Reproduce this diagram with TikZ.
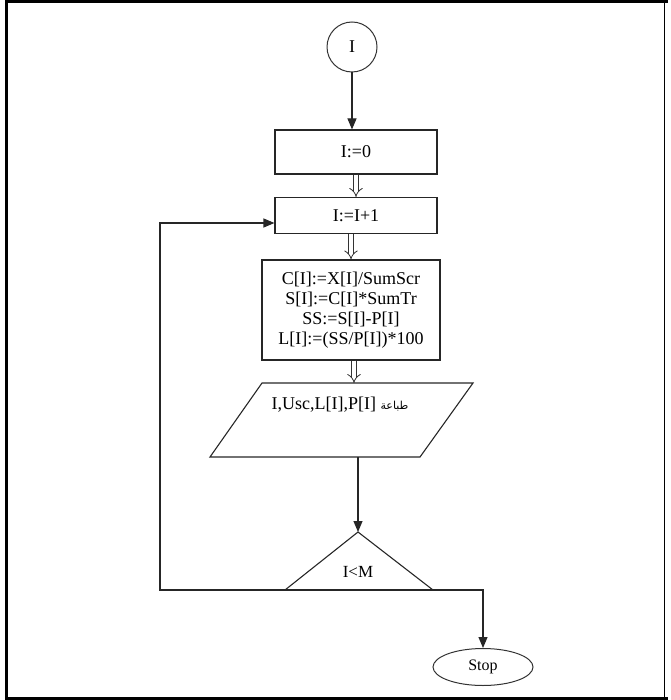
\documentclass[tikz,border=0pt]{standalone}
\usepackage{fontspec}
\setmainfont{Liberation Serif}
\newfontfamily\arabicfont[Script=Arabic]{DejaVu Sans}
\TeXXeTstate=1
\usetikzlibrary{arrows.meta,shapes.geometric,calc}
\begin{document}
\begin{tikzpicture}[x=1pt,y=-1pt,
  ln/.style={line width=1.1pt, draw=black!85},
  box/.style={draw=black!85, line width=1.1pt, inner sep=0pt, align=center,
              font=\fontsize{18}{20}\selectfont},
  arr/.style={ln, -{Triangle[length=11pt,width=9pt]}},
  dbl/.style={draw=black!80, double, double distance=4pt, line width=0.8pt, -{Implies}},
  txt/.style={font=\fontsize{18}{20}\selectfont, inner sep=0pt}
]
\useasboundingbox (0,0) rectangle (670,700);
% frame
\draw[line width=3pt] (6.5,1.5) -- (668,1.5) (6.5,0) -- (6.5,698.5) -- (668,698.5);
\draw[line width=1pt] (664,1.5) -- (664,698.5);

% start connector
\node[draw=black!80, line width=1pt, circle, minimum size=50pt, inner sep=0pt, font=\fontsize{18}{20}\selectfont] (c) at (352,47) {I};

% boxes
\node[box, minimum width=162pt, minimum height=44pt] (b1) at (356,152) {I:=0};
\node[box, minimum width=162pt, minimum height=36pt] (b2) at (356,215.5) {I:=I+1};
\node[box, minimum width=178pt, minimum height=100pt] (b3) at (351,310)
  {C[I]:=X[I]/SumScr\\S[I]:=C[I]*SumTr\\SS:=S[I]-P[I]\\L[I]:=(SS/P[I])*100};

% parallelogram
\coordinate (ptl) at (262,383);
\coordinate (ptr) at (473,383);
\coordinate (pbr) at (420,457);
\coordinate (pbl) at (210,457);
\draw[ln] (ptl) -- (ptr) -- (pbr) -- (pbl) -- cycle;
\node[txt] (pt) at (340,405) {I,Usc,L[I],P[I] {\arabicfont\fontsize{11}{14}\selectfont\beginR طباعة\endR}};
\coordinate (pout) at (358,457);
\coordinate (ptop) at (354,383);

% triangle decision
\coordinate (tap) at (358,532);
\coordinate (tbl) at (285,590);
\coordinate (tbr) at (433,590);
\draw[ln] (tbl) -- (tap) -- (tbr);
\node[txt, font=\fontsize{17}{20}\selectfont] (tt) at (358,572) {I<M};

% stop
\node[draw=black!80, line width=1pt, ellipse, minimum width=100pt, minimum height=37pt, inner sep=0pt, font=\fontsize{16}{18}\selectfont] (stop) at (483,667) {Stop};

% connectors
\draw[arr] (c) -- (c |- b1.north);
\draw[dbl] (b1) -- (b2);
\draw[dbl] (b2.south -| b3.north) -- (b3.north);
\draw[dbl] (b3.south -| ptop) -- (ptop);
\draw[arr] (pout) -- (tap);
\coordinate (fbl) at (160,590);
\coordinate (fbt) at (160,223);
\draw[arr] (tbl) -- (fbl) -- (fbt) -- ([yshift=-7.5pt]b2.west);
\draw[ln] (tbl) -- (tbr);
\coordinate (sr) at (483,590);
\draw[arr] (tbr) -- (sr) -- (stop.north);
\end{tikzpicture}
\end{document}
